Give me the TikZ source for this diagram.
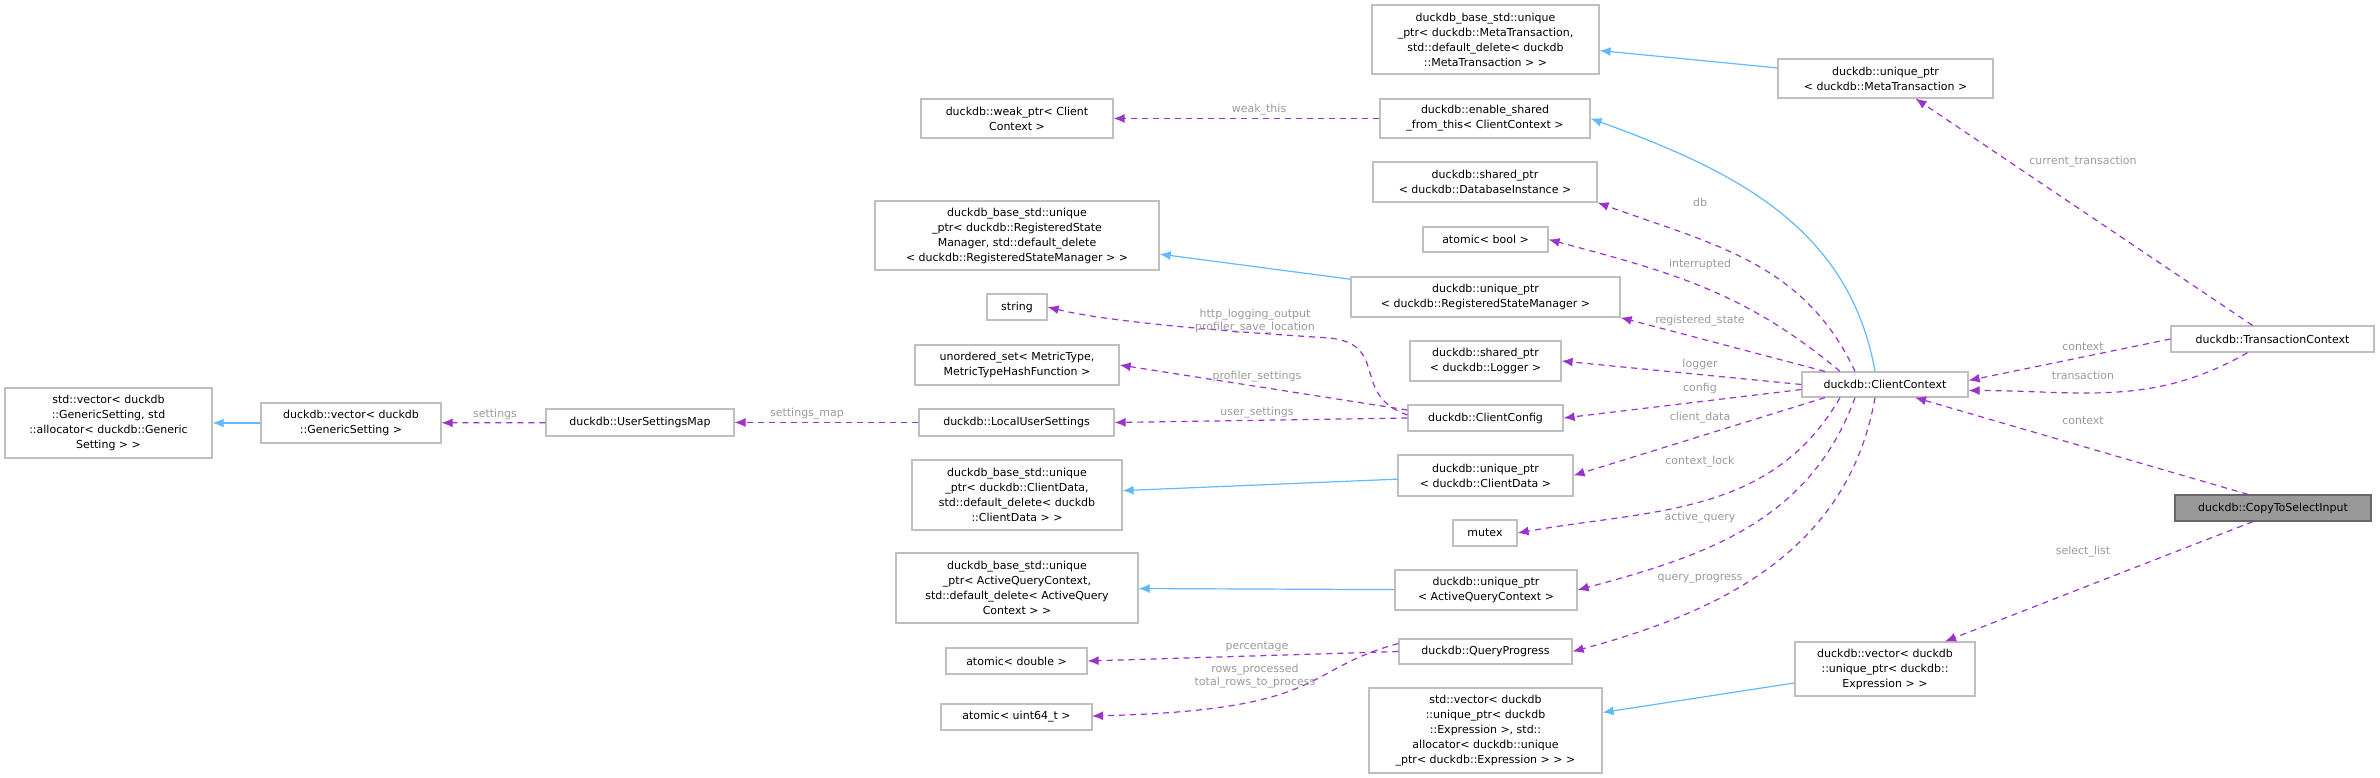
\documentclass[tikz,border=0pt]{standalone}
\usepackage{fontspec}
\setmainfont{DejaVu Sans}
\usetikzlibrary{arrows.meta}
\definecolor{inh}{HTML}{63B8FF}
\definecolor{use}{HTML}{9A32CD}
\definecolor{bx}{HTML}{BFBFBF}
\definecolor{lab}{HTML}{9A9A9A}
\tikzset{
  box/.style={draw=bx,line width=1.2,fill=white,inner sep=0,align=center,font=\fontsize{11}{15}\selectfont,text=black},
  hl/.style={box,fill=black!40,draw=black!60},
  inhline/.style={draw=inh,line width=1.2,-{Latex[length=11,width=9]}},
  useline/.style={draw=use,line width=1.2,dash pattern=on 6pt off 5pt,-{Latex[length=11,width=9]}},
  elab/.style={text=lab,font=\fontsize{11}{13}\selectfont,align=center,inner sep=0}
}
\newcommand{\nd}[7][box]{\node[#1,minimum width={#4-#2},minimum height={#5-#3}] (#6) at ({(#2+#4)/2},{(#3+#5)/2}) {#7};}
\begin{document}
\begin{tikzpicture}[x=1pt,y=-1pt]
\useasboundingbox (0,0) rectangle (2380,778);
\nd{1372}{5}{1599}{74}{metabase}{duckdb\_base\_std::unique\\\_ptr< duckdb::MetaTransaction,\\std::default\_delete< duckdb\\::MetaTransaction > >}
\nd{1778}{59}{1993}{98}{upmeta}{duckdb::unique\_ptr\\< duckdb::MetaTransaction >}
\nd{921}{99}{1113}{138}{weak}{duckdb::weak\_ptr< Client\\Context >}
\nd{1380}{99}{1590}{138}{es}{duckdb::enable\_shared\\\_from\_this< ClientContext >}
\nd{1373}{162}{1597}{202}{sdb}{duckdb::shared\_ptr\\< duckdb::DatabaseInstance >}
\nd{1423}{227}{1548}{252}{abool}{atomic< bool >}
\nd{875}{201}{1159}{270}{rsmbase}{duckdb\_base\_std::unique\\\_ptr< duckdb::RegisteredState\\Manager, std::default\_delete\\< duckdb::RegisteredStateManager > >}
\nd{1351}{277}{1620}{317}{uprsm}{duckdb::unique\_ptr\\< duckdb::RegisteredStateManager >}
\nd{987}{294}{1047}{320}{str}{string}
\nd{915}{345}{1119}{385}{uset}{unordered\_set< MetricType,\\MetricTypeHashFunction >}
\nd{1410}{341}{1561}{381}{slog}{duckdb::shared\_ptr\\< duckdb::Logger >}
\nd{1408}{405}{1563}{431}{ccfg}{duckdb::ClientConfig}
\nd{1802}{372}{1968}{397}{cc}{duckdb::ClientContext}
\nd{2171}{326}{2374}{352}{tc}{duckdb::TransactionContext}
\nd[hl]{2175}{495}{2371}{521}{cts}{duckdb::CopyToSelectInput}
\nd{1398}{455}{1573}{496}{upcd}{duckdb::unique\_ptr\\< duckdb::ClientData >}
\nd{1453}{520}{1517}{546}{mtx}{mutex}
\nd{1395}{570}{1577}{610}{upaq}{duckdb::unique\_ptr\\< ActiveQueryContext >}
\nd{1399}{639}{1572}{664}{qp}{duckdb::QueryProgress}
\nd{1795}{642}{1975}{696}{vexp}{duckdb::vector< duckdb\\::unique\_ptr< duckdb::\\Expression > >}
\nd{1369}{688}{1602}{773}{svexp}{std::vector< duckdb\\::unique\_ptr< duckdb\\::Expression >, std::\\allocator< duckdb::unique\\\_ptr< duckdb::Expression > > >}
\nd{5}{388}{212}{458}{svgen}{std::vector< duckdb\\::GenericSetting, std\\::allocator< duckdb::Generic\\Setting > >}
\nd{261}{403}{441}{443}{vgen}{duckdb::vector< duckdb\\::GenericSetting >}
\nd{546}{409}{734}{436}{usm}{duckdb::UserSettingsMap}
\nd{919}{409}{1114}{436}{lus}{duckdb::LocalUserSettings}
\nd{912}{460}{1122}{530}{cdbase}{duckdb\_base\_std::unique\\\_ptr< duckdb::ClientData,\\std::default\_delete< duckdb\\::ClientData > >}
\nd{896}{553}{1138}{623}{aqbase}{duckdb\_base\_std::unique\\\_ptr< ActiveQueryContext,\\std::default\_delete< ActiveQuery\\Context > >}
\nd{946}{648}{1087}{674}{adbl}{atomic< double >}
\nd{941}{704}{1092}{730}{au64}{atomic< uint64\_t >}
% inheritance
\draw[inhline] (upmeta) -- (metabase);
\draw[inhline] ([xshift=-10]cc.north) to[out=100,in=-20] (es.east);
\draw[inhline] (uprsm) -- (rsmbase);
\draw[inhline] (upcd) -- (cdbase);
\draw[inhline] (upaq) -- (aqbase);
\draw[inhline] (vexp) -- (svexp);
\draw[inhline] (vgen) -- (svgen);
% usage
\draw[useline] (es) -- (weak);
\draw[useline] ([xshift=-30]cc.north) to[out=115,in=-20] (sdb.south east);
\draw[useline] ([xshift=-45]cc.north) to[out=140,in=-15] (abool.east);
\draw[useline] ([xshift=-60]cc.north) -- (uprsm.south east);
\draw[useline] (cc.west) -- (slog.east);
\draw[useline] ([yshift=-5]cc.west) -- (ccfg.east);
\draw[useline] ([xshift=-60]cc.south) -- (upcd.east);
\draw[useline] ([xshift=-45]cc.south) to[out=-120,in=10] (mtx.east);
\draw[useline] ([xshift=-30]cc.south) to[out=-110,in=15] (upaq.east);
\draw[useline] ([xshift=-10]cc.south) to[out=-100,in=15] (qp.east);
\draw[useline] ([xshift=-25]tc.south) to[out=-150,in=0] ([yshift=-6]cc.east);
\draw[useline] (tc.west) -- ([yshift=4]cc.east);
\draw[useline] ([xshift=-20]tc.north) -- ([xshift=30]upmeta.south);
\draw[useline] ([xshift=-25]cts.north) -- ([xshift=30]cc.south);
\draw[useline] ([xshift=-20]cts.south) -- ([xshift=60]vexp.north);
\draw[useline] ([yshift=3]ccfg.west) .. controls (1350,395) and (1390,345) .. (1330,338) .. controls (1200,330) and (1100,320) .. (str.east);
\draw[useline] ([yshift=8]ccfg.west) -- (uset.east);
\draw[useline] (ccfg.west) -- (lus.east);
\draw[useline] (lus) -- (usm);
\draw[useline] (usm) -- (vgen);
\draw[useline] (qp.west) -- (adbl.east);
\draw[useline] ([yshift=8]qp.west) .. controls (1300,670) and (1330,710) .. (1092,716);
% labels
\node[elab] at (1259,110) {weak\_this};
\node[elab] at (2083,162) {current\_transaction};
\node[elab] at (1700,202) {db};
\node[elab] at (1700,264) {interrupted};
\node[elab] at (1700,321) {registered\_state};
\node[elab] at (1700,364) {logger};
\node[elab] at (1700,388) {config};
\node[elab] at (1700,418) {client\_data};
\node[elab] at (1700,462) {context\_lock};
\node[elab] at (1700,518) {active\_query};
\node[elab] at (1700,579) {query\_progress};
\node[elab] at (2083,347) {context};
\node[elab] at (2083,375) {transaction};
\node[elab] at (2083,421) {context};
\node[elab] at (2083,552) {select\_list};
\node[elab] at (1255,321) {http\_logging\_output\\profiler\_save\_location};
\node[elab] at (1257,377) {profiler\_settings};
\node[elab] at (1257,413) {user\_settings};
\node[elab] at (1257,647) {percentage};
\node[elab] at (1255,676) {rows\_processed\\total\_rows\_to\_process};
\node[elab] at (495,414) {settings};
\node[elab] at (807,414) {settings\_map};
\end{tikzpicture}
\end{document}
